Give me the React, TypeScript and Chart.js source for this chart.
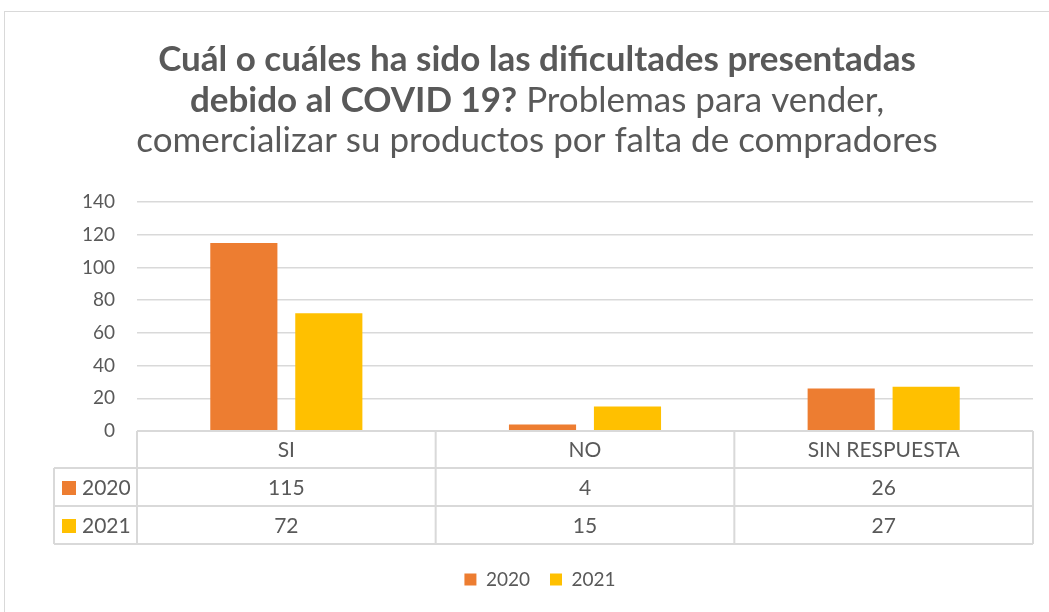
import React, { useEffect, useRef } from "react";
import { Chart, registerables } from "chart.js";

Chart.register(...registerables);

const categories = ["SI", "NO", "SIN RESPUESTA"];
const seriesNames = ["2020", "2021"];
const values2020 = [115, 4, 26];
const values2021 = [72, 15, 27];
const seriesColors = ["#ED7D31", "#FFC000"];
const yMax = 140;
const yStep = 20;

const titleLines = [
  [{ text: "Cuál o cuáles ha sido las dificultades presentadas", bold: true }],
  [
    { text: "debido al COVID 19?", bold: true },
    { text: " Problemas para vender,", bold: false },
  ],
  [{ text: "comercializar su productos por falta de compradores", bold: false }],
];

const FONT = "Lato, 'Open Sans', sans-serif";
const TEXT = "#595959";
const GRID = "#d9d9d9";

const titlePlugin = {
  id: "richTitle",
  afterDraw(chart: any) {
    const ctx = chart.ctx;
    const cx = 537;
    const baselines = [71, 112, 152];
    const size = 35;
    ctx.save();
    ctx.fillStyle = TEXT;
    ctx.textBaseline = "alphabetic";
    ctx.textAlign = "left";
    titleLines.forEach((line, li) => {
      let total = 0;
      const widths = line.map((seg) => {
        ctx.font = `${seg.bold ? "bold " : ""}${size}px ${FONT}`;
        const w = ctx.measureText(seg.text).width;
        total += w;
        return w;
      });
      let x = cx - total / 2;
      line.forEach((seg, si) => {
        ctx.font = `${seg.bold ? "bold " : ""}${size}px ${FONT}`;
        ctx.fillText(seg.text, x, baselines[li]);
        x += widths[si];
      });
    });
    ctx.restore();
  },
};

const tablePlugin = {
  id: "dataTable",
  afterDraw(chart: any) {
    const { ctx, chartArea, scales } = chart;
    const xs = scales.x;
    const n = categories.length;
    const colW = (chartArea.right - chartArea.left) / n;
    const top = chartArea.bottom;
    const rows = [top, top + 37, top + 75, top + 113];
    const keyLeft = 54;
    const left = chartArea.left;
    const right = chartArea.right;
    ctx.save();
    ctx.strokeStyle = GRID;
    ctx.lineWidth = 2;
    ctx.beginPath();
    ctx.moveTo(left, rows[0]);
    ctx.lineTo(right, rows[0]);
    for (let r = 1; r < rows.length; r++) {
      ctx.moveTo(keyLeft, rows[r]);
      ctx.lineTo(right, rows[r]);
    }
    for (let i = 0; i <= n; i++) {
      const xp = left + i * colW;
      ctx.moveTo(xp, rows[0]);
      ctx.lineTo(xp, rows[3]);
    }
    ctx.moveTo(keyLeft, rows[1]);
    ctx.lineTo(keyLeft, rows[3]);
    ctx.stroke();

    ctx.fillStyle = TEXT;
    ctx.font = `21px ${FONT}`;
    ctx.textAlign = "center";
    ctx.textBaseline = "middle";
    categories.forEach((c, i) => {
      const cx = xs.getPixelForValue(i);
      ctx.fillText(c, cx, (rows[0] + rows[1]) / 2 + 1);
    });
    chart.data.datasets.forEach((ds: any, d: number) => {
      const cy = (rows[d + 1] + rows[d + 2]) / 2 + 1;
      ds.data.forEach((v: number, i: number) => {
        ctx.fillStyle = TEXT;
        ctx.textAlign = "center";
        ctx.fillText(String(v), xs.getPixelForValue(i), cy);
      });
      ctx.fillStyle = ds.backgroundColor;
      ctx.fillRect(62, cy - 7, 14, 14);
      ctx.fillStyle = TEXT;
      ctx.textAlign = "left";
      ctx.fillText(ds.label, 82, cy);
    });
    ctx.restore();
  },
};

export default function App() {
  const ref = useRef<HTMLCanvasElement | null>(null);

  useEffect(() => {
    if (!ref.current) return;
    const chart = new Chart(ref.current, {
      type: "bar",
      data: {
        labels: categories,
        datasets: [
          {
            label: seriesNames[0],
            data: values2020,
            backgroundColor: seriesColors[0],
            categoryPercentage: 0.569,
            barPercentage: 0.79,
          },
          {
            label: seriesNames[1],
            data: values2021,
            backgroundColor: seriesColors[1],
            categoryPercentage: 0.569,
            barPercentage: 0.79,
          },
        ],
      },
      options: {
        animation: false,
        responsive: false,
        maintainAspectRatio: false,
        layout: { padding: { top: 202, left: 47, right: 16, bottom: 13 } },
        plugins: {
          title: { display: false },
          tooltip: { enabled: false },
          legend: {
            display: true,
            position: "bottom",
            labels: {
              boxWidth: 12,
              boxHeight: 12,
              padding: 20,
              color: TEXT,
              font: { family: FONT, size: 19 },
            },
          },
        },
        scales: {
          x: {
            grid: { display: false },
            border: { display: false },
            ticks: { display: false },
            afterFit: (s: any) => {
              s.height = 119;
            },
          },
          y: {
            min: 0,
            max: yMax,
            ticks: {
              stepSize: yStep,
              color: TEXT,
              padding: 22,
              font: { family: FONT, size: 19 },
            },
            grid: { color: GRID, lineWidth: 1.5, drawTicks: false },
            border: { display: false },
            afterFit: (s: any) => {
              s.width = 90;
            },
          },
        },
      },
      plugins: [titlePlugin, tablePlugin],
    });
    return () => chart.destroy();
  }, []);

  return (
    <div
      style={{
        position: "fixed",
        left: 0,
        top: 0,
        width: 1049,
        height: 612,
        overflow: "hidden",
        background: "#ffffff",
      }}
    >
      <div
        style={{
          position: "absolute",
          left: 4,
          top: 11,
          width: 1100,
          height: 700,
          border: `1.5px solid ${GRID}`,
          boxSizing: "border-box",
        }}
      />
      <canvas
        ref={ref}
        width={1049}
        height={612}
        style={{ position: "absolute", left: 0, top: 0, width: 1049, height: 612 }}
      />
    </div>
  );
}
